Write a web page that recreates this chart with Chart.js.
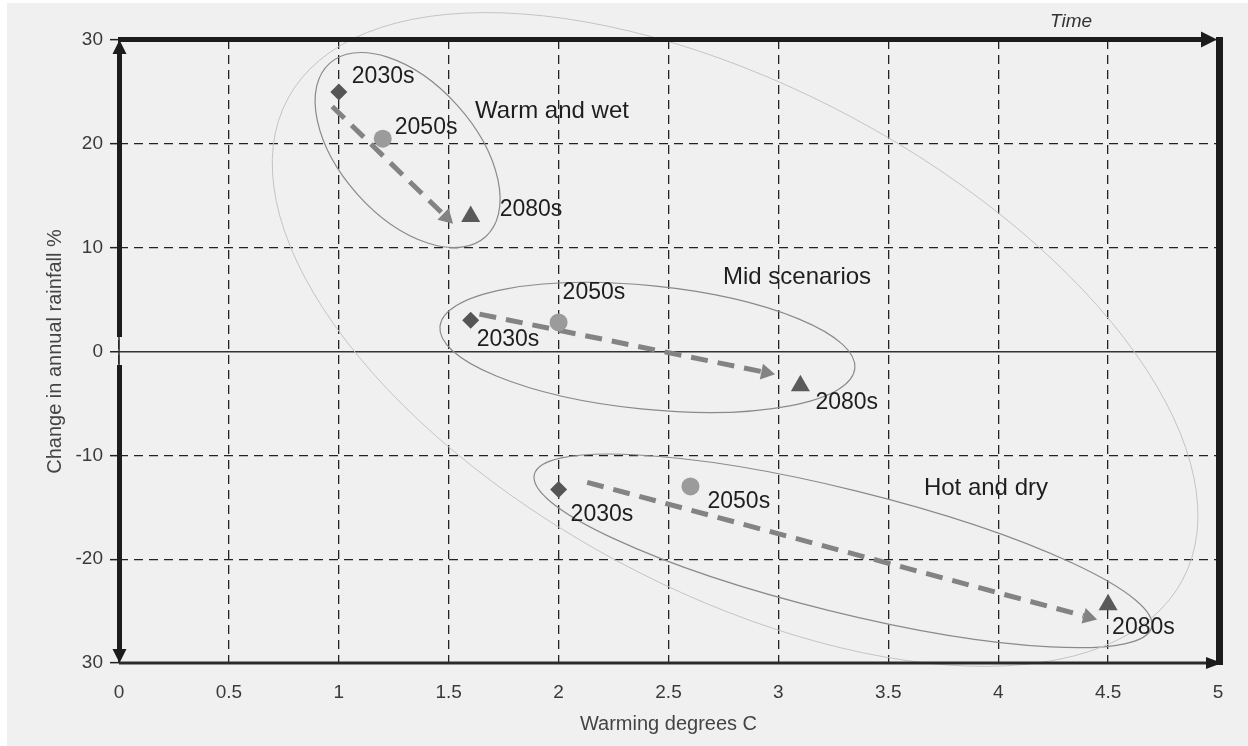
<!DOCTYPE html>
<html>
<head>
<meta charset="utf-8">
<script src="https://cdn.jsdelivr.net/npm/chart.js@4.4.0/dist/chart.umd.min.js"></script>
<style>
html,body{margin:0;padding:0;background:#f0f0f0;}
#wrap{width:1248px;height:746px;position:relative;}
</style>
</head>
<body>
<div id="wrap"><canvas id="c" width="1248" height="746"></canvas></div>
<script>
// ---------- data ----------
const scenarios = ['Warm and wet', 'Mid scenarios', 'Hot and dry'];
const periods = ['2030s', '2050s', '2080s'];
const warming2030s = [1.0, 1.6, 2.0];
const rainfall2030s = [25, 3, -13.3];
const warming2050s = [1.2, 2.0, 2.6];
const rainfall2050s = [20.5, 2.8, -13];
const warming2080s = [1.6, 3.1, 4.5];
const rainfall2080s = [13, -3.3, -24.4];
const xTickValues = [0, 0.5, 1, 1.5, 2, 2.5, 3, 3.5, 4, 4.5, 5];
const yTickValues = [-30, -20, -10, 0, 10, 20, 30];
const yTickLabels = ['30', '-20', '-10', '0', '10', '20', '30'];
// trend arrows (data units)
const arrowFromX = [0.97, 1.64, 2.13];
const arrowFromY = [23.6, 3.6, -12.6];
const arrowToX = [1.52, 2.985, 4.45];
const arrowToY = [12.3, -2.2, -25.8];
// scenario label anchors (data units)
const scenarioLabelX = [1.62, 2.748, 3.662];
const scenarioLabelY = [23.1, 7.13, -13.2];
// grouping ellipses: centres in data units
const ellipseCx = [1.313, 2.404, 3.294, 2.803];
const ellipseCy = [19.4, 0.39, -19.2, 1.16];

// ---------- styling (pixels) ----------
const FONT = "'Liberation Sans', Arial, sans-serif";
const ellipseStyle = [
  {rx: 116.6, ry: 66.9, rot: 48, color: '#8a8a8a', w: 1.2},
  {rx: 208.5, ry: 61.8, rot: 5.8, color: '#8a8a8a', w: 1.2},
  {rx: 318, ry: 61.3, rot: 13.9, color: '#8a8a8a', w: 1.2},
  {rx: 508, ry: 251, rot: 28.3, color: '#c4c4c4', w: 1}
];
// per-scenario offsets of the period labels [2030s, 2050s, 2080s]
const periodLabelOffsets = [
  [[13, -15.5], [12, -11], [29, -7]],
  [[6, 19], [4, -30], [15, 17]],
  [[12, 25], [17, 15], [4, 23]]
];

const toPts = (xs, ys) => xs.map((x, i) => ({x: x, y: ys[i]}));

const decor = {
  id: 'decor',
  beforeDraw(chart) {
    const {ctx, width, height} = chart;
    ctx.save();
    ctx.fillStyle = '#f0f0f0';
    ctx.fillRect(0, 0, width, height);
    ctx.fillStyle = '#ffffff';
    ctx.fillRect(0, 0, 7, height);
    ctx.fillRect(0, 0, width, 3);
    ctx.restore();
  },
  beforeDatasetsDraw(chart) {
    const {ctx, scales: {x, y}} = chart;
    ctx.save();
    // ellipses
    ellipseCx.forEach((cx, i) => {
      const s = ellipseStyle[i];
      ctx.beginPath();
      ctx.ellipse(x.getPixelForValue(cx), y.getPixelForValue(ellipseCy[i]), s.rx, s.ry, s.rot * Math.PI / 180, 0, Math.PI * 2);
      ctx.strokeStyle = s.color;
      ctx.lineWidth = s.w;
      ctx.setLineDash([]);
      ctx.stroke();
    });
    // arrows
    arrowFromX.forEach((fx, i) => {
      const x0 = x.getPixelForValue(fx), y0 = y.getPixelForValue(arrowFromY[i]);
      const x1 = x.getPixelForValue(arrowToX[i]), y1 = y.getPixelForValue(arrowToY[i]);
      const ang = Math.atan2(y1 - y0, x1 - x0);
      const head = 14, hw = 8;
      const bx = x1 - Math.cos(ang) * head, by = y1 - Math.sin(ang) * head;
      ctx.strokeStyle = '#838383';
      ctx.fillStyle = '#838383';
      ctx.lineWidth = 5;
      ctx.lineCap = 'butt';
      ctx.setLineDash([17, 10]);
      ctx.beginPath();
      ctx.moveTo(x0, y0);
      ctx.lineTo(bx, by);
      ctx.stroke();
      ctx.setLineDash([]);
      ctx.beginPath();
      ctx.moveTo(x1, y1);
      ctx.lineTo(bx + Math.sin(ang) * hw, by - Math.cos(ang) * hw);
      ctx.lineTo(bx - Math.sin(ang) * hw, by + Math.cos(ang) * hw);
      ctx.closePath();
      ctx.fill();
    });
    ctx.restore();
  },
  afterDatasetsDraw(chart) {
    const {ctx, chartArea: ca, scales: {x, y}} = chart;
    const L = ca.left, R = ca.right, T = ca.top, B = ca.bottom;
    const z = y.getPixelForValue(0);
    ctx.save();
    ctx.setLineDash([]);
    const dark = '#1c1c1c';
    const line = (x0, y0, x1, y1, w, c) => {
      ctx.beginPath(); ctx.moveTo(x0, y0); ctx.lineTo(x1, y1);
      ctx.lineWidth = w; ctx.strokeStyle = c; ctx.stroke();
    };
    const tri = (ax, ay, bx, by, cx, cy) => {
      ctx.beginPath(); ctx.moveTo(ax, ay); ctx.lineTo(bx, by); ctx.lineTo(cx, cy); ctx.closePath();
      ctx.fillStyle = dark; ctx.fill();
    };
    // thin vertical axis
    line(L, T, L, B, 1.5, '#2a2a2a');
    // thick left double arrow with gap at zero
    line(L + 0.5, T + 12, L + 0.5, z - 14.5, 5, dark);
    line(L + 0.5, z + 13.5, L + 0.5, B - 12, 5, dark);
    tri(L + 0.5, T, L - 6.5, T + 14, L + 7.5, T + 14);
    tri(L + 0.5, B, L - 6.5, B - 14, L + 7.5, B - 14);
    // top thick arrow
    line(L - 1, T - 0.5, R - 16, T - 0.5, 5, dark);
    tri(R - 1, T - 0.5, R - 17, T - 8.5, R - 17, T + 7.5);
    // right thick bar
    line(R + 1.5, T - 3, R + 1.5, B + 2, 7, dark);
    // bottom axis
    line(L, B, R - 12, B, 3, '#2a2a2a');
    tri(R + 4, B, R - 12, B - 6, R - 12, B + 6);
    // period labels
    ctx.fillStyle = '#1e1e1e';
    ctx.textBaseline = 'middle';
    ctx.textAlign = 'left';
    ctx.font = '23px ' + FONT;
    chart.data.datasets.forEach((ds, di) => {
      ds.data.forEach((p, si) => {
        const off = periodLabelOffsets[si][di];
        ctx.fillText(periods[di], x.getPixelForValue(p.x) + off[0], y.getPixelForValue(p.y) + off[1]);
      });
    });
    // scenario labels
    ctx.font = '24px ' + FONT;
    scenarios.forEach((s, i) => {
      ctx.fillText(s, x.getPixelForValue(scenarioLabelX[i]), y.getPixelForValue(scenarioLabelY[i]));
    });
    // Time
    ctx.font = 'italic 19px ' + FONT;
    ctx.textAlign = 'center';
    ctx.fillStyle = '#333';
    ctx.fillText('Time', 1071, 22);
    ctx.restore();
  }
};

new Chart(document.getElementById('c'), {
  type: 'scatter',
  data: {
    datasets: [
      {label: periods[0], data: toPts(warming2030s, rainfall2030s), pointStyle: 'rectRot', pointRadius: 8.5, pointHoverRadius: 8.5,
       backgroundColor: '#555555', borderColor: '#555555', borderWidth: 0},
      {label: periods[1], data: toPts(warming2050s, rainfall2050s), pointStyle: 'circle', pointRadius: 9, pointHoverRadius: 9,
       backgroundColor: '#9b9b9b', borderColor: '#9b9b9b', borderWidth: 0},
      {label: periods[2], data: toPts(warming2080s, rainfall2080s), pointStyle: 'triangle', pointRadius: 11, pointHoverRadius: 11,
       backgroundColor: '#5a5a5a', borderColor: '#5a5a5a', borderWidth: 0}
    ]
  },
  options: {
    responsive: false,
    animation: false,
    devicePixelRatio: 1,
    layout: {padding: {top: 40, right: 30, bottom: 0, left: 0}},
    plugins: {legend: {display: false}, tooltip: {enabled: false}, title: {display: false}},
    scales: {
      x: {
        type: 'linear', min: 0, max: 5,
        afterBuildTicks: s => { s.ticks = xTickValues.map(v => ({value: v})); },
        afterFit: s => { s.height = 83; },
        ticks: {font: {family: FONT, size: 19}, color: '#3a3a3a', padding: 18, maxRotation: 0, autoSkip: false,
                callback: v => String(v)},
        grid: {color: '#222', lineWidth: 1.3, drawTicks: false},
        border: {display: false, dash: [9, 6]},
        title: {display: true, text: 'Warming degrees C', font: {family: FONT, size: 20}, color: '#444',
                padding: {top: 0, bottom: 10}}
      },
      y: {
        type: 'linear', min: -30, max: 30,
        afterBuildTicks: s => { s.ticks = yTickValues.map(v => ({value: v})); },
        afterFit: s => { s.width = 119; },
        ticks: {font: {family: FONT, size: 19}, color: '#3a3a3a', padding: 7, autoSkip: false,
                callback: (v) => yTickLabels[yTickValues.indexOf(v)]},
        grid: {
          color: c => (c.tick && c.tick.value === 0) ? '#333' : '#222',
          lineWidth: c => (c.tick && c.tick.value === 0) ? 1.5 : 1.3,
          tickLength: 9, tickColor: '#222', tickWidth: 1.5
        },
        border: {display: false, dash: c => (c.tick && c.tick.value === 0) ? [] : [9, 6]},
        title: {display: true, text: 'Change in annual rainfall %', font: {family: FONT, size: 20}, color: '#444',
                padding: {top: 43, bottom: 0}}
      }
    }
  },
  plugins: [decor]
});
</script>
</body>
</html>
